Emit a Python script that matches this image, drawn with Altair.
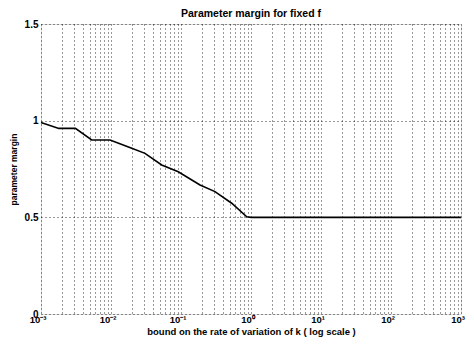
import altair as alt
import pandas as pd

# curve
rate = [0.001, 0.0018, 0.0031, 0.0053, 0.0097, 0.0198, 0.0306, 0.053, 0.0914,
        0.187, 0.306, 0.53, 0.87, 1.0, 1000.0]
margin = [0.99, 0.96, 0.96, 0.90, 0.90, 0.857, 0.831, 0.771, 0.736,
          0.667, 0.633, 0.573, 0.503, 0.5, 0.5]

decades = [0.001, 0.01, 0.1, 1.0, 10.0, 100.0, 1000.0]
decade_labels = ["10⁻³", "10⁻²", "10⁻¹", "10⁰", "10¹", "10²", "10³"]
grid_x = [m * d for d in decades[:-1] for m in range(1, 10)] + [1000.0]
y_ticks = [0, 0.5, 1, 1.5]

df = pd.DataFrame({"rate": rate, "margin": margin})
lab = pd.DataFrame({"rate": decades, "label": decade_labels})

font = "Liberation Sans"
xscale = alt.Scale(type="log", domain=[0.001, 1000], nice=False)
xaxis = alt.Axis(values=grid_x, labels=False, grid=True,
                 gridDash=[1, 3], gridColor="black", gridOpacity=0.8,
                 ticks=False, domain=False,
                 title="bound on the rate of variation of k ( log scale )",
                 titleFont=font, titleFontSize=9.5, titleFontWeight="bold",
                 titleColor="black", titlePadding=12)

line = alt.Chart(df).mark_line(color="black", strokeWidth=1.6).encode(
    x=alt.X("rate:Q", scale=xscale, axis=xaxis),
    y=alt.Y("margin:Q",
            scale=alt.Scale(domain=[0, 1.5], nice=False),
            axis=alt.Axis(values=y_ticks, labelExpr="toString(datum.value)", grid=True,
                          gridDash=[1, 3], gridColor="black", gridOpacity=0.8,
                          ticks=False, domain=False, labelFont=font, labelFontSize=10,
                          labelFontWeight="bold", labelColor="black", labelPadding=3,
                          title="parameter margin", titleFont=font, titleFontSize=8.5,
                          titleFontWeight="bold", titleColor="black", titlePadding=6)),
)

labels = alt.Chart(lab).mark_text(font=font, fontSize=9.5, fontWeight="bold",
                                  color="black", dx=-3, baseline="middle").encode(
    x=alt.X("rate:Q", scale=xscale, axis=xaxis),
    y=alt.value(296),
    text="label:N",
)

chart = alt.layer(line, labels).properties(
    width=420, height=290,
    title=alt.TitleParams("Parameter margin for fixed f", font=font, fontSize=10.5,
                          fontWeight="bold", color="black", offset=0),
    autosize=alt.AutoSizeParams(type="none"),
    padding={"left": 33, "top": 16, "right": 5, "bottom": 23},
).configure_view(stroke="black", strokeWidth=1.5).configure(background="white")

chart.save("out.html", embed_options={"renderer": "svg", "actions": False})
